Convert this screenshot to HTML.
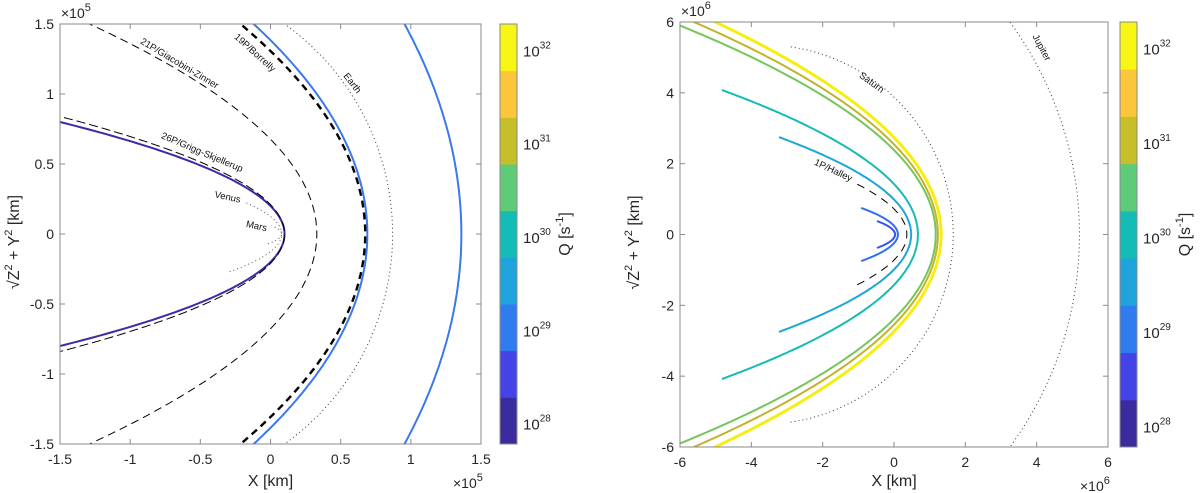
<!DOCTYPE html>
<html><head><meta charset="utf-8">
<style>
html,body{margin:0;padding:0;background:#fff;}
svg{display:block;font-family:"Liberation Sans",Arial,sans-serif;}
.tick{font-size:14px;fill:#262626;}
.cbt{font-size:15px;fill:#262626;}
.lbl{font-size:9.5px;fill:#111;}
.ax{font-size:16px;fill:#262626;}
</style></head>
<body>
<svg id="fig" width="1200" height="493" viewBox="0 0 1200 493" xmlns="http://www.w3.org/2000/svg">
<defs>
<clipPath id="clipL"><rect x="60" y="24" width="421" height="420"/></clipPath>
<clipPath id="clipR"><rect x="680" y="22" width="428" height="425"/></clipPath>
</defs>
<g id="left"></g>
<g id="right"></g>
</svg>
<script>
// ---- Left panel data (x in 1e5 km) ----
const leftNames = ["26p-model","26p-obs","21p-obs","19p-model","19p-obs","outer-model-left","venus","mars"];
const leftVertex = [0.10, 0.10, 0.33, 0.69, 0.675, 1.36, 0.08, 0.08];
const leftCurv = [2.5, 2.27, 0.72, 0.36, 0.395, 0.18, 5.1, 20];
const leftYmin = [-1, -0.85, -1.7, -1.7, -1.7, -1.7, -0.27, -0.07];
const leftYmax = [1, 0.84, 1.7, 1.7, 1.7, 1.7, 0.23, 0.06];
const leftColor = ["#3a2ca6","#000","#000","#3a78f0","#000","#3a78f0","#555","#555"];
const leftWidth = [2, 1, 1, 2, 2.4, 2, 1, 1];
const leftDash = ["", "9,4", "8,5", "", "7,5", "", "1,3", "1,3"];
const earthCenter = -0.976, earthRadius = 1.846;
const leftTicks = [-1.5,-1,-0.5,0,0.5,1,1.5];
const leftTickLabels = ["-1.5","-1","-0.5","0","0.5","1","1.5"];

// ---- Right panel data (x in 1e6 km) ----
const rightNames = ["blue-outer","blue-inner","halley-obs","lightblue","teal","green","olive","yellow"];
const rightVertex = [0.11, 0.03, 0.36, 0.48, 0.67, 1.17, 1.23, 1.32];
const rightCurv = [1.83, 3.5, 0.69, 0.49, 0.33, 0.206, 0.19, 0.176];
const rightYmax = [0.75, 0.38, 1.42, 2.75, 4.08, 6.5, 6.5, 6.5];
const rightColor = ["#3070f0","#3b55f0","#000","#1ea6d6","#14bcb4","#74c55a","#c2b22c","#f6ee10"];
const rightWidth = [2, 2, 1, 2, 2, 2, 2, 3];
const rightDash = ["", "", "8,6", "", "", "", "", ""];
const saturnCenter = -3.7, saturnRadius = 5.36, saturnYmax = 5.3;
const jupiterCenter = -5.0, jupiterRadius = 10.2;
const rightTicks = [-6,-4,-2,0,2,4,6];
const rightTickLabels = ["-6","-4","-2","0","2","4","6"];

// colorbar
const cbColors = ["#3a2c9f","#4343e6","#2f7cf0","#1ea3dc","#14bcb6","#5ecb78","#c6bf2a","#fcc63a","#f8f514"];
const cbExponents = [28,29,30,31,32];

const NS="http://www.w3.org/2000/svg";
function mk(parent, tag, attrs, text){const e=document.createElementNS(NS,tag);for(const k in attrs)e.setAttribute(k,attrs[k]);if(text!==undefined)e.textContent=text;parent.appendChild(e);return e;}

function panel(g, P){
  const sx=v=>P.x0+(v-P.min)/(P.max-P.min)*P.w;
  const sy=v=>P.y0+P.h/2-v/P.max*P.h/2;
  const curves=mk(g,"g",{"clip-path":"url(#"+P.clip+")"});
  
  
  P.circles.forEach(c=>{
    let pts=[];
    const ym=c.ymax;
    for(let i=0;i<=200;i++){const y=-ym+2*ym*i/200;const x=c.c+Math.sqrt(Math.max(0,c.r*c.r-y*y));pts.push(sx(x).toFixed(1)+","+sy(y).toFixed(1));}
    const p=mk(curves,"polyline",{points:pts.join(" "),fill:"none",stroke:"#333","stroke-width":1,"stroke-dasharray":"1,3"});
    
    
  });
  for(let k=0;k<P.vertex.length;k++){
    let pts=[];
    const y0=P.ymin[k], y1=P.ymax[k];
    for(let i=0;i<=200;i++){const y=y0+(y1-y0)*i/200;const x=P.vertex[k]-P.curv[k]*y*y;pts.push(sx(x).toFixed(1)+","+sy(y).toFixed(1));}
    const a={points:pts.join(" "),fill:"none",stroke:P.color[k],"stroke-width":P.width[k]};
    if(P.dash[k])a["stroke-dasharray"]=P.dash[k];
    const p=mk(curves,"polyline",a);
    
    
  }
  const box=mk(g,"rect",{x:P.x0,y:P.y0,width:P.w,height:P.h,fill:"none",stroke:"#8a8a8a","stroke-width":1});
  
  
  P.ticks.forEach((t,i)=>{
    const X=sx(t);
    mk(g,"line",{x1:X,y1:P.y0+P.h,x2:X,y2:P.y0+P.h-5,stroke:"#8a8a8a"});
    mk(g,"line",{x1:X,y1:P.y0,x2:X,y2:P.y0+5,stroke:"#8a8a8a"});
    const yy=sy(t);
    mk(g,"line",{x1:P.x0,y1:yy,x2:P.x0+5,y2:yy,stroke:"#8a8a8a"});
    mk(g,"line",{x1:P.x0+P.w,y1:yy,x2:P.x0+P.w-5,y2:yy,stroke:"#8a8a8a"});
    const xt=mk(g,"text",{x:X,y:P.y0+P.h+20,"text-anchor":"middle",class:"tick"},P.tickLabels[i]);
    
    
    const yt=mk(g,"text",{x:P.x0-6,y:yy+5,"text-anchor":"end",class:"tick"},P.tickLabels[i]);
    
    
  });
  const e1=mk(g,"text",{x:P.x0+1,y:P.y0-6,class:"tick"});
  e1.innerHTML='×10<tspan dy="-7" font-size="11">'+P.exp+'</tspan>';
  
  
  const e2=mk(g,"text",{x:P.x0+P.w-28,y:P.y0+P.h+44,class:"tick"});
  e2.innerHTML='×10<tspan dy="-7" font-size="11">'+P.exp+'</tspan>';
  
  
  const xl=mk(g,"text",{x:P.x0+P.w/2,y:486,"text-anchor":"middle",class:"ax"},"X [km]");
  
  
  const yl=mk(g,"text",{x:0,y:0,"text-anchor":"middle",class:"ax",transform:"translate("+(P.x0-41)+","+(P.y0+P.h/2+8)+") rotate(-90)"});
  yl.innerHTML='√Z<tspan dy="-7" font-size="11">2</tspan><tspan dy="7"> + Y</tspan><tspan dy="-7" font-size="11">2</tspan><tspan dy="7"> [km]</tspan>';
  
  
  const cb=mk(g,"g",{});
  
  
  const bh=P.h/cbColors.length;
  cbColors.forEach((c,i)=>{
    mk(cb,"rect",{x:P.cbx,y:P.y0+P.h-(i+1)*bh,width:17,height:bh+0.5,fill:c});
  });
  mk(cb,"rect",{x:P.cbx,y:P.y0,width:17,height:P.h,fill:"none",stroke:"#8a8a8a"});
  cbExponents.forEach((e,i)=>{
    const yy=P.y0+P.h-bh/2-i*2*bh;
    const t=mk(cb,"text",{x:P.cbx+23,y:yy+9,class:"cbt"});
    t.innerHTML='10<tspan dy="-8" font-size="10">'+e+'</tspan>';
    
    
  });
  const cl=mk(g,"text",{x:0,y:0,"text-anchor":"middle",class:"ax",transform:"translate("+(P.cbx+70)+","+(P.y0+P.h/2)+") rotate(-90)"});
  cl.innerHTML='Q  [s<tspan dy="-7" font-size="11">-1</tspan><tspan dy="7">]</tspan>';
  
  
  P.labels.forEach(l=>{
    const t=mk(g,"text",{x:0,y:0,"text-anchor":"middle",class:"lbl",transform:"translate("+l[1]+","+l[2]+") rotate("+l[3]+")"},l[0]);
    
    
  });
}

panel(document.getElementById("left"),{
  prefix:"left",x0:60,y0:24,w:421,h:420,min:-1.5,max:1.5,clip:"clipL",
  names:leftNames,vertex:leftVertex,curv:leftCurv,ymin:leftYmin,ymax:leftYmax,color:leftColor,width:leftWidth,dash:leftDash,
  circles:[{name:"earth",c:earthCenter,r:earthRadius,ymax:1.7}],
  ticks:leftTicks,tickLabels:leftTickLabels,exp:"5",cbx:500,
  labels:[["21P/Giacobini-Zinner",178,66,31],["19P/Borrelly",253,55,42],["Earth",350,85,52],["26P/Grigg-Skjellerup",201,155,23],["Venus",227,200,12],["Mars",256,229,12]]
});
panel(document.getElementById("right"),{
  prefix:"right",x0:680,y0:22,w:428,h:425,min:-6,max:6,clip:"clipR",
  names:rightNames,vertex:rightVertex,curv:rightCurv,ymin:rightYmax.map(v=>-v),ymax:rightYmax,color:rightColor,width:rightWidth,dash:rightDash,
  circles:[{name:"saturn",c:saturnCenter,r:saturnRadius,ymax:saturnYmax},{name:"jupiter",c:jupiterCenter,r:jupiterRadius,ymax:6.5}],
  ticks:rightTicks,tickLabels:rightTickLabels,exp:"6",cbx:1120,
  labels:[["Saturn",870,85,36],["Jupiter",1039,49,62],["1P/Halley",832,173,25]]
});
</script>
</body></html>
